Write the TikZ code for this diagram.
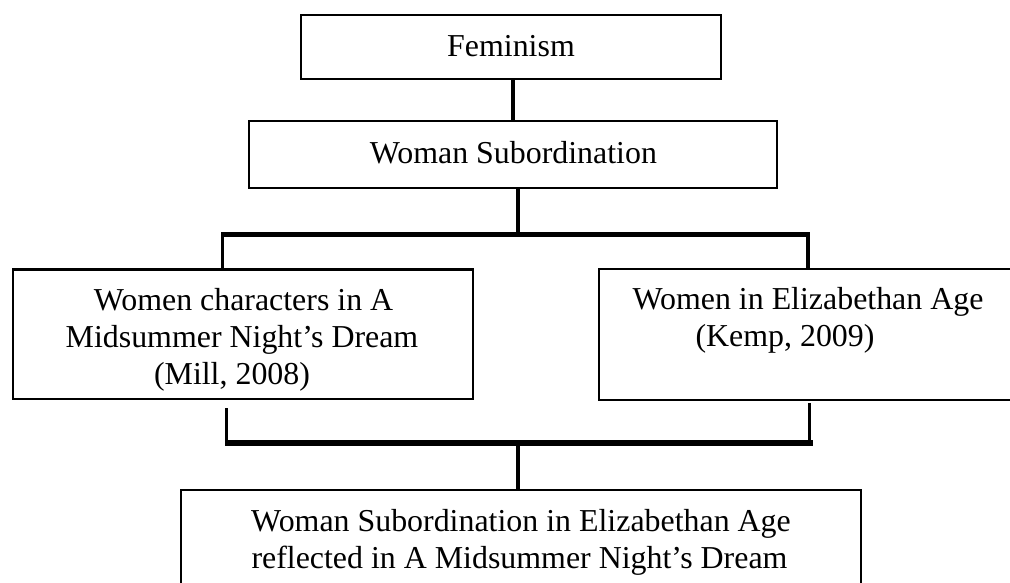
\documentclass[tikz,border=0pt]{standalone}
\usepackage{fontspec}
\setmainfont{Liberation Serif}
\begin{document}
\begin{tikzpicture}[x=1pt,y=1pt,
  box/.style={draw=black,line width=2.5pt,rectangle,inner sep=0pt},
  conn/.style={draw=black,line width=3.2pt},
  bar/.style={draw=black,line width=5.5pt},
  lbl/.style={anchor=base,inner sep=0pt,font=\fontsize{31.9}{37}\selectfont}]
\useasboundingbox[fill=white] (0,0) rectangle (1010,-583);
% boxes
\node[box,minimum width=420pt,minimum height=64pt] (fem) at (511,-47) {};
\node[box,minimum width=528pt,minimum height=67pt] (ws) at (513,-154.5) {};
\node[box,minimum width=460pt,minimum height=129.5pt] (left) at (243,-334) {};
\node[box,minimum width=421pt,minimum height=131pt] (right) at (809.5,-334.5) {};
\node[box,minimum width=680pt,minimum height=110pt] (bot) at (521,-545) {};
% texts
\node[lbl] (tfem) at (511,-57) {Feminism};
\node[lbl] (tws) at (513.4,-163.5) {Woman Subordination};
\node[lbl] (tl1) at (243.5,-310.5) {Women characters in A};
\node[lbl] (tl2) at (242,-347.5) {Midsummer Night’s Dream};
\node[lbl] (tl3) at (232,-384.5) {(Mill, 2008)};
\node[lbl] (tr1) at (808,-309.5) {Women in Elizabethan Age};
\node[lbl] (tr2) at (785,-346.5) {(Kemp, 2009)};
\node[lbl] (tb1) at (521,-531.5) {Woman Subordination in Elizabethan Age};
\node[lbl] (tb2) at (519.5,-568.3) {reflected in A Midsummer Night’s Dream};
% junction coordinates
\coordinate (j1) at (518,-234.5);
\coordinate (b1l) at (222.7,-234.5);
\coordinate (b1r) at (808,-234.5);
\coordinate (b2l) at (226.7,-443);
\coordinate (b2r) at (809.6,-443);
\coordinate (j2) at (518,-443);
% connectors
\draw[conn] (ws.north |- fem.south) -- (ws.north);
\draw[conn] (j1 |- ws.south) -- (j1);
\draw[bar] ([xshift=-1.6pt]b1l) -- ([xshift=1.6pt]b1r);
\draw[conn] (b1l) -- (b1l |- left.north);
\draw[conn] (b1r) -- (b1r |- right.north);
\draw[conn] ([yshift=-8pt]b2l |- left.south) -- (b2l);
\draw[conn] ([yshift=-1.5pt]b2r |- right.south) -- (b2r);
\draw[bar] ([xshift=-1.6pt]b2l) -- ([xshift=3pt]b2r);
\draw[conn] (j2) -- (j2 |- bot.north);
\end{tikzpicture}
\end{document}
